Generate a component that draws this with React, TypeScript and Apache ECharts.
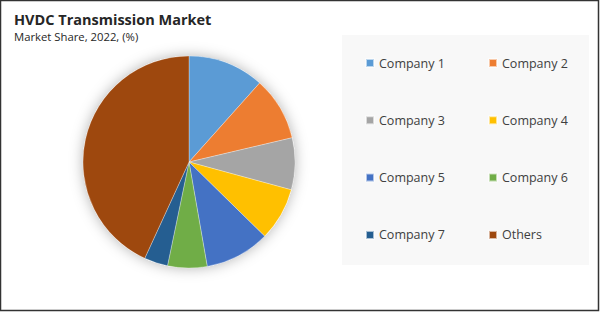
import React, { useEffect, useRef } from "react";
import * as echarts from "echarts";

const categories = ["Company 1", "Company 2", "Company 3", "Company 4", "Company 5", "Company 6", "Company 7", "Others"];
const shares = [11.6, 9.7, 7.9, 8.1, 9.9, 6.0, 3.6, 43.1];
const colors = ["#5B9BD5", "#ED7D31", "#A5A5A5", "#FFC000", "#4472C4", "#70AD47", "#255E91", "#9E480E"];
const leftLegend = ["Company 1", "Company 3", "Company 5", "Company 7"];
const rightLegend = ["Company 2", "Company 4", "Company 6", "Others"];

const FONT = "'Open Sans', 'Noto Sans', sans-serif";

export default function App() {
  const ref = useRef<HTMLDivElement>(null);
  useEffect(() => {
    document.body.style.margin = "0";
    const chart = echarts.init(ref.current!, null, { renderer: "svg" });
    const legendCommon = {
      orient: "vertical" as const,
      itemWidth: 8,
      itemHeight: 8,
      icon: "rect",
      itemGap: 44.3,
      textStyle: { fontFamily: FONT, fontSize: 12.5, color: "#404040", padding: [0, 0, 0, 0] },
      selectedMode: false,
    };
    chart.setOption({
      animation: false,
      backgroundColor: "#ffffff",
      title: {
        text: "HVDC Transmission Market",
        subtext: "Market Share, 2022, (%)",
        left: 9,
        top: 7,
        itemGap: 4,
        textStyle: { fontFamily: FONT, fontSize: 14.5, fontWeight: "bold", color: "#262626" },
        subtextStyle: { fontFamily: FONT, fontSize: 11.3, color: "#262626" },
      },
      graphic: [
        {
          type: "rect",
          shape: { x: 342, y: 35, width: 247, height: 230 },
          style: { fill: "#f8f8f8" },
          z: -10,
        },
        {
          type: "rect",
          shape: { x: 0.5, y: 0.5, width: 598, height: 310 },
          style: { fill: "none", stroke: "#333333", lineWidth: 1.5 },
          z: 100,
        },
      ],
      legend: [
        { ...legendCommon, data: leftLegend, left: 360, top: 51.5 },
        { ...legendCommon, data: rightLegend, left: 483, top: 51.5 },
      ],
      series: [
        {
          type: "pie",
          silent: true,
          center: [189, 162],
          radius: 106,
          z: 1,
          label: { show: false },
          labelLine: { show: false },
          data: [{ name: "shadow", value: 1, itemStyle: { color: "#ffffff", shadowBlur: 14, shadowColor: "rgba(0,0,0,0.3)" } }],
          legendHoverLink: false,
        },
        {
          type: "pie",
          center: [189, 162],
          radius: 106,
          startAngle: 90,
          clockwise: true,
          z: 2,
          label: { show: false },
          labelLine: { show: false },
          itemStyle: { borderColor: "rgba(255,255,255,0.6)", borderWidth: 0.5 },
          data: categories.map((name, i) => ({ name, value: shares[i], itemStyle: { color: colors[i] } })),
        },
      ],
    });
    return () => chart.dispose();
  }, []);
  return <div ref={ref} style={{ width: 600, height: 312 }} />;
}
